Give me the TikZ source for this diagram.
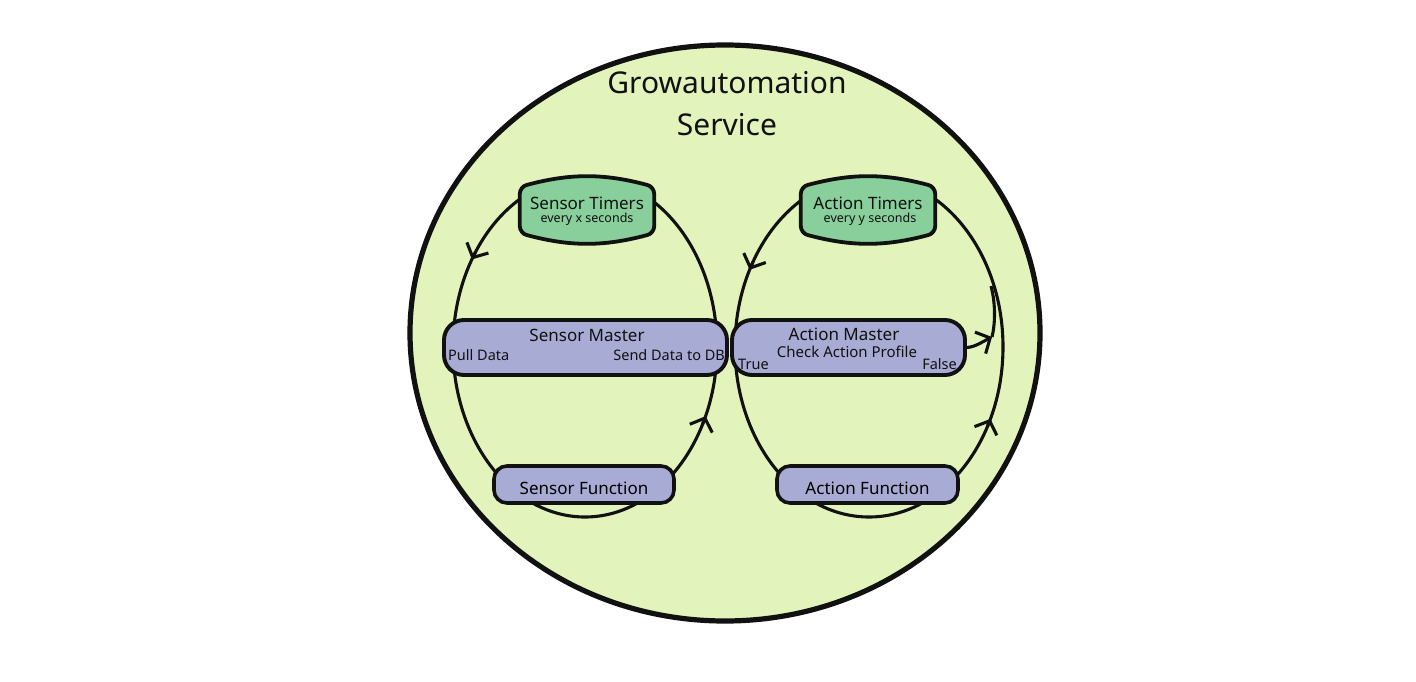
\documentclass[tikz,border=0pt]{standalone}
\usepackage{fontspec}
\setmainfont{Noto Sans}
\usetikzlibrary{arrows.meta,calc}
\definecolor{bgfill}{HTML}{E2F4BB}
\definecolor{timerfill}{HTML}{88CF9C}
\definecolor{boxfill}{HTML}{A8ABD3}
\definecolor{ink}{HTML}{111111}
\begin{document}
\begin{tikzpicture}[x=1pt,y=-1pt,
  >={Straight Barb[length=11pt,width=24pt,line width=3.1pt]},
  looppath/.style={line width=3.1pt, draw=ink},
  masterbox/.style={draw=ink, line width=3.9pt, fill=boxfill, rounded corners=20pt, minimum height=55pt, inner sep=0pt},
  funcbox/.style={draw=ink, line width=3.6pt, fill=boxfill, rounded corners=13pt, minimum width=180pt, minimum height=37pt, inner sep=0pt, text height=20pt, text depth=0pt, font=\fontsize{17}{20}\selectfont},
  timerbox/.style={minimum width=134pt, minimum height=46pt, inner sep=0pt},
  timershape/.style={draw=ink, line width=3.8pt, fill=timerfill, rounded corners=7pt},
  maintext/.style={font=\fontsize{17}{20}\selectfont, inner sep=0pt, text=ink},
  subtext/.style={font=\fontsize{15}{18}\selectfont, inner sep=0pt, text=ink},
  smalltext/.style={font=\fontsize{14.5}{18}\selectfont, inner sep=0pt, text=ink},
  tinytext/.style={font=\fontsize{12.5}{15}\selectfont, inner sep=0pt, text=ink}
]
\useasboundingbox (0,0) rectangle (1416,682);
\fill[white] (0,0) rectangle (1416,682);

% service circle
\draw[line width=5.2pt, draw=ink, fill=bgfill] (725,333) ellipse [x radius=315, y radius=288];
\node[align=center, font=\fontsize{30}{42}\selectfont, text=ink] (title) at (727,104) {Growautomation\\Service};

% loops
\coordinate (lc) at (585,347);
\coordinate (rc) at (869,347);
\draw[looppath] (lc) ellipse [x radius=132, y radius=170];
\draw[looppath] (rc) ellipse [x radius=134, y radius=170];
% arrowheads along the loops (counter-clockwise on screen)
\draw[looppath,->] ($(lc)+({132*cos(146)},{-170*sin(146)})$) -- ($(lc)+({132*cos(149)},{-170*sin(149)})$);
\draw[looppath,->] ($(lc)+({132*cos(-27)},{-170*sin(-27)})$) -- ($(lc)+({132*cos(-24)},{-170*sin(-24)})$);
\draw[looppath,->] ($(rc)+({134*cos(150)},{-170*sin(150)})$) -- ($(rc)+({134*cos(153)},{-170*sin(153)})$);
\draw[looppath,->] ($(rc)+({134*cos(-28)},{-170*sin(-28)})$) -- ($(rc)+({134*cos(-25)},{-170*sin(-25)})$);

% timers
\node[timerbox] (st) at (587,210) {};
\node[timerbox] (at) at (868,210) {};
\draw[timershape] (st.north west) to[bend left=15] (st.north east) -- (st.south east) to[bend left=15] (st.south west) -- cycle;
\draw[timershape] (at.north west) to[bend left=15] (at.north east) -- (at.south east) to[bend left=15] (at.south west) -- cycle;
\node[maintext] (stl) at (587,203) {Sensor Timers};
\node[tinytext] (sts) at (587,219) {every x seconds};
\node[maintext] (atl) at (868,203) {Action Timers};
\node[tinytext] (ats) at (870,219) {every y seconds};

% masters
\node[masterbox, minimum width=283pt] (sm) at (585.5,347.5) {};
\node[maintext] (sml) at (587,335) {Sensor Master};
\node[smalltext, anchor=west] (pull) at (448,355) {Pull Data};
\node[smalltext, anchor=east] (send) at (725,355) {Send Data to DB};

\node[masterbox, minimum width=233pt] (am) at (848.5,347.5) {};
\node[maintext] (aml) at (844,334) {Action Master};
\node[subtext] (chk) at (847,352) {Check Action Profile};
\node[smalltext, anchor=west] (tru) at (738,364) {True};
\node[smalltext, anchor=east] (fal) at (957,364) {False};

% functions
\node[funcbox] (sf) at (584,484.5) {Sensor Function};
\node[funcbox, minimum width=181pt] (af) at (867.5,484.5) {Action Function};

% false branch
\coordinate (fsplit) at (991,286);
\coordinate (fjoin) at (992,337);
\draw[looppath] (fsplit) .. controls (996,305) and (995,325) .. (fjoin);
\draw[looppath, ->] (am.east) .. controls (975,347) and (982,342) .. (fjoin);
\end{tikzpicture}
\end{document}
